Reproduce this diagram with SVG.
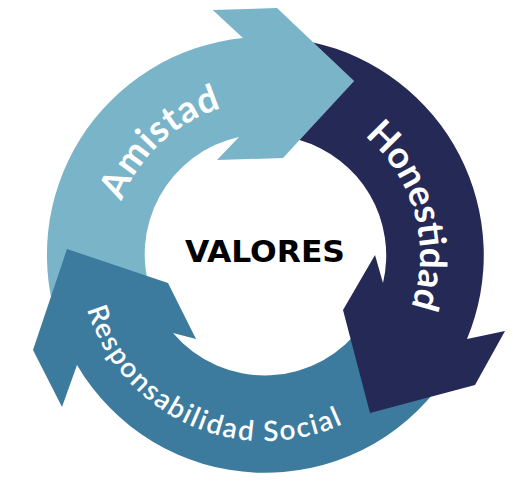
<svg xmlns="http://www.w3.org/2000/svg" width="513" height="486" viewBox="0 0 513 486">
<style>
.lbl{fill:#ffffff;font-family:Lato,"Open Sans","Liberation Sans",sans-serif;}
.big{font-size:37px;font-weight:700;}
.mid{font-size:28px;font-weight:600;}
.center{fill:#000000;font-family:"DejaVu Sans","Liberation Sans",sans-serif;font-stretch:condensed;font-size:31px;font-weight:700;}
</style>
<defs>
<path id="pA" d="M 115.9 289.4 A 153 153 0 0 1 309.7 108.7"/>
<path id="pH" d="M 304.3 105.1 A 155 155 0 0 1 375.2 364.0"/>
<path id="pR" d="M 79.9 273.8 A 186 186 0 0 0 373.8 405.9"/>
</defs>
<rect width="513" height="486" fill="#ffffff"/>
<g id="connectors">
<g id="amistad">
<path fill="#79B4C9" d="M 60.1 329.6 A 218 218 0 0 1 243 38 L 212.7 10 L 277 8 L 354 81 L 283 158 L 217 160 L 239 137 A 120 120 0 0 0 152.2 296 Z"/>
<text class="lbl big"><textPath href="#pA" startOffset="50%" text-anchor="middle" textLength="141" lengthAdjust="spacing">Amistad</textPath></text>
</g>
<g id="responsabilidad">
<path fill="#3C7B9E" d="M 443.6 380 A 218 218 0 0 1 77 365 L 62 407 L 33 350 L 67 249 L 168 283 L 196 339 L 173 333 A 120 120 0 0 0 363.3 323.8 Z"/>
<text class="lbl mid"><textPath href="#pR" startOffset="50%" text-anchor="middle" textLength="317" lengthAdjust="spacing">Responsabilidad Social</textPath></text>
</g>
<g id="honestidad">
<path fill="#252955" d="M 313.3 42.4 A 218 218 0 0 1 467 339 L 505 331 L 475 385 L 370 413 L 343 310 L 375 255 L 383 283 A 120 120 0 0 0 299.5 140.1 L 354 81 Z"/>
<text class="lbl big"><textPath href="#pH" startOffset="50%" text-anchor="middle" textLength="188" lengthAdjust="spacing">Honestidad</textPath></text>
</g>
</g>
<g id="valores">
<text class="center" x="265" y="262" text-anchor="middle" textLength="160" lengthAdjust="spacingAndGlyphs">VALORES</text>
</g>
</svg>
